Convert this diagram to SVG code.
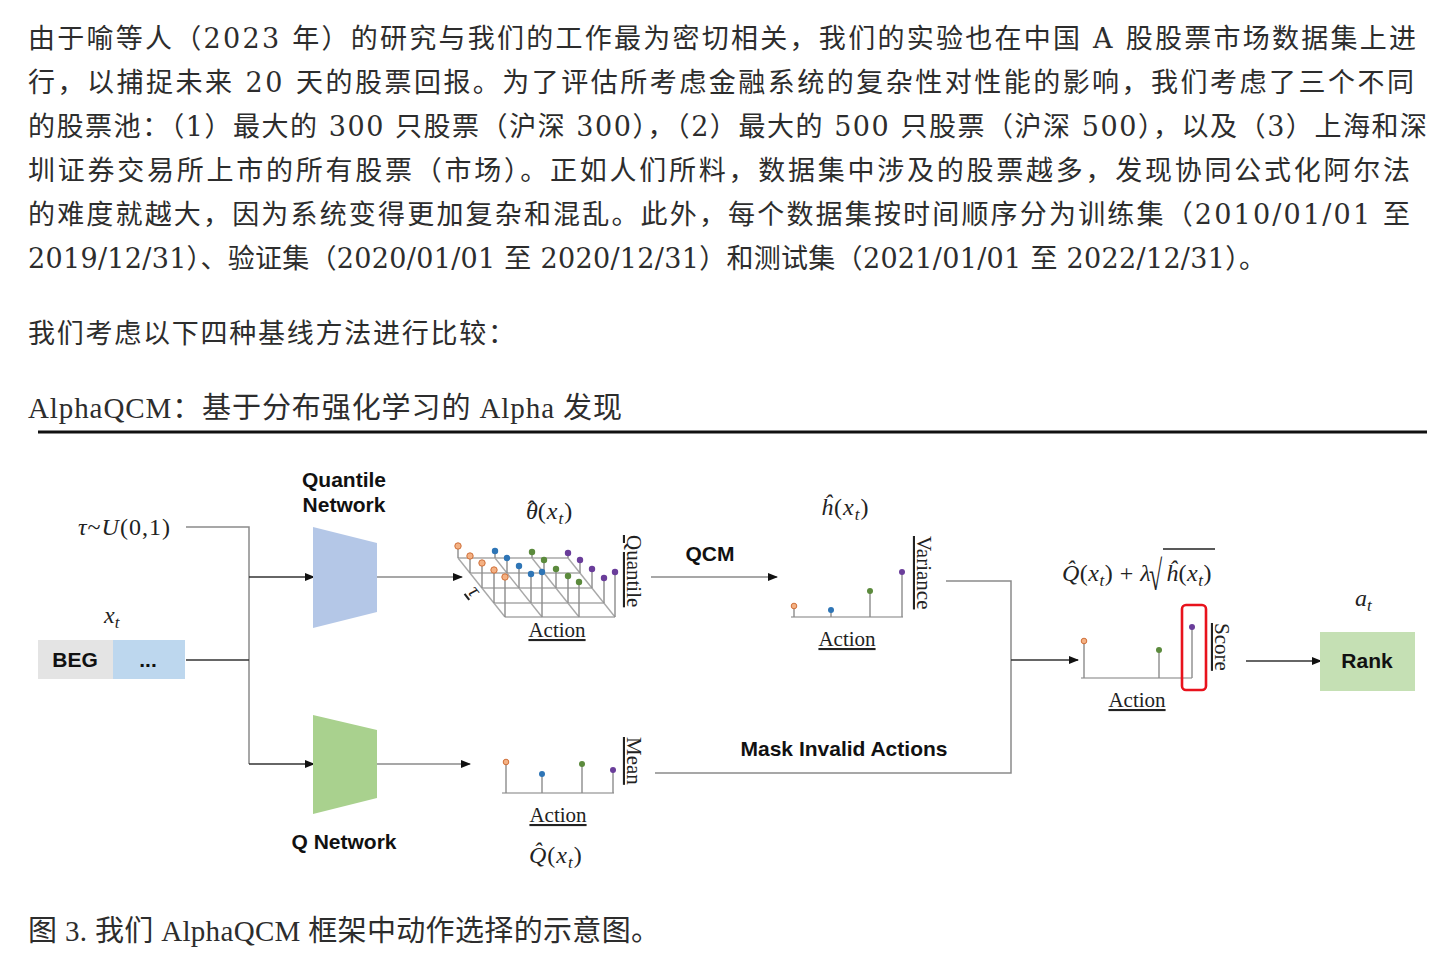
<svg xmlns="http://www.w3.org/2000/svg" width="1450" height="956" viewBox="0 0 1450 956">
<style>
.para{font-family:"DejaVu Serif","Noto Sans CJK SC",serif;font-size:27px;fill:#2d2d2d}
.ttl{font-family:"Liberation Serif","Noto Sans CJK SC",serif;font-size:29px;fill:#2d2d2d}
.lbl{font-family:"Liberation Sans",Arial,sans-serif;font-weight:bold;font-size:21px;fill:#111}
.ser{font-family:"Liberation Serif","Times New Roman",serif;font-size:21px;fill:#222}
.math{font-family:"Liberation Serif","DejaVu Serif",serif;font-size:24px;fill:#222}
.sub{font-size:17px;font-style:italic}
.it{font-style:italic}
.ln{stroke:#8a8a8a;stroke-width:1.5;fill:none}
.lnk{stroke:#333;stroke-width:1.5;fill:none}
.grid{stroke:#a8a8a8;stroke-width:1.4;fill:none}
.stem{stroke:#8c8c8c;stroke-width:1.4}
.po{fill:#f4b183;stroke:#d0703a;stroke-width:1}
.pb{fill:#2e75b6}
.pg{fill:#5b8a3c}
.pp{fill:#6a3d9a}
</style>
<defs>
<marker id="ah" viewBox="0 0 10 8" refX="9" refY="4" markerWidth="10" markerHeight="8" markerUnits="userSpaceOnUse" orient="auto">
<path d="M0,0 L10,4 L0,8 z" fill="#111"/>
</marker>
</defs>
<rect width="1450" height="956" fill="#fff"/>

<g id="paragraph">
<text class="para" x="28" y="48" textLength="1388" lengthAdjust="spacing">由于喻等人（2023 年）的研究与我们的工作最为密切相关，我们的实验也在中国 A 股股票市场数据集上进</text>
<text class="para" x="28" y="92" textLength="1386" lengthAdjust="spacing">行，以捕捉未来 20 天的股票回报。为了评估所考虑金融系统的复杂性对性能的影响，我们考虑了三个不同</text>
<text class="para" x="28" y="136" textLength="1399" lengthAdjust="spacing">的股票池：（1）最大的 300 只股票（沪深 300），（2）最大的 500 只股票（沪深 500），以及（3）上海和深</text>
<text class="para" x="28" y="180" textLength="1382" lengthAdjust="spacing">圳证券交易所上市的所有股票（市场）。正如人们所料，数据集中涉及的股票越多，发现协同公式化阿尔法</text>
<text class="para" x="28" y="224" textLength="1382" lengthAdjust="spacing">的难度就越大，因为系统变得更加复杂和混乱。此外，每个数据集按时间顺序分为训练集（2010/01/01 至</text>
<text class="para" x="28" y="268" textLength="1238" lengthAdjust="spacing">2019/12/31）、验证集（2020/01/01 至 2020/12/31）和测试集（2021/01/01 至 2022/12/31）。</text>
<text class="para" x="28" y="343" textLength="487" lengthAdjust="spacing">我们考虑以下四种基线方法进行比较：</text>
<text class="ttl" x="28" y="418" textLength="594" lengthAdjust="spacing">AlphaQCM：基于分布强化学习的 Alpha 发现</text>
<line x1="38" y1="432" x2="1427" y2="432" stroke="#111" stroke-width="3"/>
<text class="ttl" x="28" y="941" textLength="632" lengthAdjust="spacing">图 3. 我们 AlphaQCM 框架中动作选择的示意图。</text>
</g>

<g id="connectors">
<polyline class="ln" points="186,527 249,527 249,764"/>
<line class="lnk" x1="249" y1="577" x2="314" y2="577" marker-end="url(#ah)"/>
<line class="lnk" x1="186" y1="660" x2="249" y2="660"/>
<line class="lnk" x1="249" y1="764" x2="314" y2="764" marker-end="url(#ah)"/>
<line class="ln" x1="377" y1="577" x2="462" y2="577" marker-end="url(#ah)"/>
<line class="ln" x1="377" y1="764" x2="470" y2="764" marker-end="url(#ah)"/>
<line class="ln" x1="651" y1="577" x2="777" y2="577" marker-end="url(#ah)"/>
<polyline class="ln" points="946,581 1011,581 1011,773 655,773"/>
<line class="lnk" x1="1011" y1="660" x2="1078" y2="660" marker-end="url(#ah)"/>
<line class="lnk" x1="1246" y1="661" x2="1321" y2="661" marker-end="url(#ah)"/>
</g>

<g id="tau-input">
<text class="math" x="78" y="535" letter-spacing="1"><tspan class="it">τ</tspan>~<tspan class="it">U</tspan>(0,1)</text>
</g>

<g id="xt-input">
<text class="math" x="104" y="623"><tspan class="it">x</tspan><tspan class="sub" dy="5">t</tspan></text>
<rect x="38" y="640" width="75" height="39" fill="#e4e4e4"/>
<rect x="113" y="640" width="72" height="39" fill="#bdd7ee"/>
<text class="lbl" x="75" y="667" text-anchor="middle" font-size="20">BEG</text>
<text class="lbl" x="148" y="667" text-anchor="middle">...</text>
</g>

<g id="quantile-network">
<text class="lbl" x="344" y="487" text-anchor="middle">Quantile</text>
<text class="lbl" x="344" y="512" text-anchor="middle">Network</text>
<polygon points="313,527 377,543 377,612 313,628" fill="#b4c7e7"/>
</g>

<g id="q-network">
<polygon points="313,715 377,730 377,798 313,814" fill="#a9d18e"/>
<text class="lbl" x="344" y="849" text-anchor="middle">Q Network</text>
</g>

<g id="quantile-grid">
<text class="math" x="526" y="519" letter-spacing="1"><tspan class="it">θ</tspan><tspan dx="-11" dy="-2">ˆ</tspan><tspan dx="1" dy="2">(</tspan><tspan class="it">x</tspan><tspan class="sub" dy="5">t</tspan><tspan dy="-5">)</tspan></text>
<line class="grid" x1="458" y1="558" x2="568" y2="558"/>
<line class="grid" x1="470" y1="573" x2="580" y2="573"/>
<line class="grid" x1="482" y1="588" x2="592" y2="588"/>
<line class="grid" x1="494" y1="603" x2="604" y2="603"/>
<line class="grid" x1="505" y1="617" x2="615" y2="617"/>
<line class="grid" x1="458" y1="558" x2="505" y2="617"/>
<line class="grid" x1="495" y1="558" x2="542" y2="617"/>
<line class="grid" x1="532" y1="558" x2="579" y2="617"/>
<line class="grid" x1="568" y1="558" x2="615" y2="617"/>
<line class="stem" x1="458" y1="546" x2="458" y2="558"/>
<line class="stem" x1="470" y1="556" x2="470" y2="573"/>
<line class="stem" x1="482" y1="563" x2="482" y2="588"/>
<line class="stem" x1="494" y1="570" x2="494" y2="603"/>
<line class="stem" x1="505" y1="577" x2="505" y2="617"/>
<line class="stem" x1="495" y1="551" x2="495" y2="558"/>
<line class="stem" x1="507" y1="558" x2="507" y2="573"/>
<line class="stem" x1="519" y1="566" x2="519" y2="588"/>
<line class="stem" x1="531" y1="574" x2="531" y2="603"/>
<line class="stem" x1="542" y1="572" x2="542" y2="617"/>
<line class="stem" x1="532" y1="552" x2="532" y2="558"/>
<line class="stem" x1="544" y1="560" x2="544" y2="573"/>
<line class="stem" x1="556" y1="569" x2="556" y2="588"/>
<line class="stem" x1="568" y1="576" x2="568" y2="603"/>
<line class="stem" x1="579" y1="582" x2="579" y2="617"/>
<line class="stem" x1="568" y1="553" x2="568" y2="558"/>
<line class="stem" x1="580" y1="560" x2="580" y2="573"/>
<line class="stem" x1="592" y1="569" x2="592" y2="588"/>
<line class="stem" x1="604" y1="578" x2="604" y2="603"/>
<line class="stem" x1="615" y1="572" x2="615" y2="617"/>
<circle class="po" cx="458" cy="546" r="3.2"/>
<circle class="po" cx="470" cy="556" r="3.2"/>
<circle class="po" cx="482" cy="563" r="3.2"/>
<circle class="po" cx="494" cy="570" r="3.2"/>
<circle class="po" cx="505" cy="577" r="3.2"/>
<circle class="pb" cx="495" cy="551" r="3.2"/>
<circle class="pb" cx="507" cy="558" r="3.2"/>
<circle class="pb" cx="519" cy="566" r="3.2"/>
<circle class="pb" cx="531" cy="574" r="3.2"/>
<circle class="pb" cx="542" cy="572" r="3.2"/>
<circle class="pg" cx="532" cy="552" r="3.2"/>
<circle class="pg" cx="544" cy="560" r="3.2"/>
<circle class="pg" cx="556" cy="569" r="3.2"/>
<circle class="pg" cx="568" cy="576" r="3.2"/>
<circle class="pg" cx="579" cy="582" r="3.2"/>
<circle class="pp" cx="568" cy="553" r="3.2"/>
<circle class="pp" cx="580" cy="560" r="3.2"/>
<circle class="pp" cx="592" cy="569" r="3.2"/>
<circle class="pp" cx="604" cy="578" r="3.2"/>
<circle class="pp" cx="615" cy="572" r="3.2"/>
<text class="ser it" x="0" y="0" font-size="22" text-decoration="underline" transform="translate(467,592) rotate(52)">τ</text>
<text class="ser" x="557" y="637" text-anchor="middle" text-decoration="underline">Action</text>
<text class="ser" x="0" y="0" text-decoration="underline" transform="translate(627,535) rotate(90)">Quantile</text>
</g>

<g id="qcm-label">
<text class="lbl" x="710" y="561" text-anchor="middle">QCM</text>
</g>

<g id="variance-chart">
<text class="math" x="821" y="515" letter-spacing="1"><tspan class="it">ĥ</tspan>(<tspan class="it">x</tspan><tspan class="sub" dy="5">t</tspan><tspan dy="-5">)</tspan></text>
<line class="grid" x1="791" y1="617" x2="903" y2="617"/>
<line class="stem" x1="794" y1="607" x2="794" y2="617"/>
<line class="stem" x1="831" y1="611" x2="831" y2="617"/>
<line class="stem" x1="870" y1="592" x2="870" y2="617"/>
<line class="stem" x1="902" y1="572" x2="902" y2="617"/>
<circle class="po" cx="794" cy="606" r="2.8"/>
<circle class="pb" cx="831" cy="610" r="3"/>
<circle class="pg" cx="870" cy="591" r="3"/>
<circle class="pp" cx="902" cy="572" r="3"/>
<text class="ser" x="847" y="646" text-anchor="middle" text-decoration="underline">Action</text>
<text class="ser" x="0" y="0" text-decoration="underline" transform="translate(917,536) rotate(90)">Variance</text>
</g>

<g id="mean-chart">
<line class="grid" x1="502" y1="793" x2="614" y2="793"/>
<line class="stem" x1="506" y1="763" x2="506" y2="793"/>
<line class="stem" x1="542" y1="774" x2="542" y2="793"/>
<line class="stem" x1="582" y1="764" x2="582" y2="793"/>
<line class="stem" x1="613" y1="771" x2="613" y2="793"/>
<circle class="po" cx="506" cy="762" r="2.8"/>
<circle class="pb" cx="542" cy="774" r="3"/>
<circle class="pg" cx="582" cy="764" r="3"/>
<circle class="pp" cx="613" cy="770" r="3"/>
<text class="ser" x="558" y="822" text-anchor="middle" text-decoration="underline">Action</text>
<text class="ser" x="0" y="0" text-decoration="underline" transform="translate(627,737) rotate(90)">Mean</text>
<text class="math" x="529" y="863" letter-spacing="1"><tspan class="it">Q̂</tspan>(<tspan class="it">x</tspan><tspan class="sub" dy="5">t</tspan><tspan dy="-5">)</tspan></text>
</g>

<g id="mask-label">
<text class="lbl" x="844" y="756" text-anchor="middle">Mask Invalid Actions</text>
</g>

<g id="score-chart">
<text class="math" x="1062" y="581" letter-spacing="0.5"><tspan class="it">Q̂</tspan>(<tspan class="it">x</tspan><tspan class="sub" dy="5">t</tspan><tspan dy="-5">) + </tspan><tspan class="it">λ</tspan></text>
<text class="math" x="0" y="0" font-size="24" transform="translate(1149,590) scale(1,1.75)">√</text>
<line x1="1163" y1="549" x2="1215" y2="549" stroke="#222" stroke-width="1.3"/>
<text class="math" x="1166" y="581" letter-spacing="0.5"><tspan class="it">ĥ</tspan>(<tspan class="it">x</tspan><tspan class="sub" dy="5">t</tspan><tspan dy="-5">)</tspan></text>
<line class="grid" x1="1081" y1="678" x2="1192" y2="678"/>
<line class="stem" x1="1084" y1="641" x2="1084" y2="678"/>
<line class="stem" x1="1159" y1="650" x2="1159" y2="678"/>
<line class="stem" x1="1192" y1="627" x2="1192" y2="678"/>
<circle class="po" cx="1084" cy="641" r="2.8"/>
<circle class="pg" cx="1159" cy="650" r="3"/>
<circle class="pp" cx="1192" cy="627" r="3"/>
<rect x="1182" y="605" width="24" height="85" rx="4" fill="none" stroke="#e8121c" stroke-width="2.6"/>
<text class="ser" x="1137" y="707" text-anchor="middle" text-decoration="underline">Action</text>
<text class="ser" x="0" y="0" text-decoration="underline" transform="translate(1215,623) rotate(90)">Score</text>
</g>

<g id="rank">
<text class="math" x="1355" y="606"><tspan class="it">a</tspan><tspan class="sub" dy="5">t</tspan></text>
<rect x="1320" y="632" width="95" height="59" fill="#c5e0b4"/>
<text class="lbl" x="1367" y="668" text-anchor="middle">Rank</text>
</g>
</svg>
